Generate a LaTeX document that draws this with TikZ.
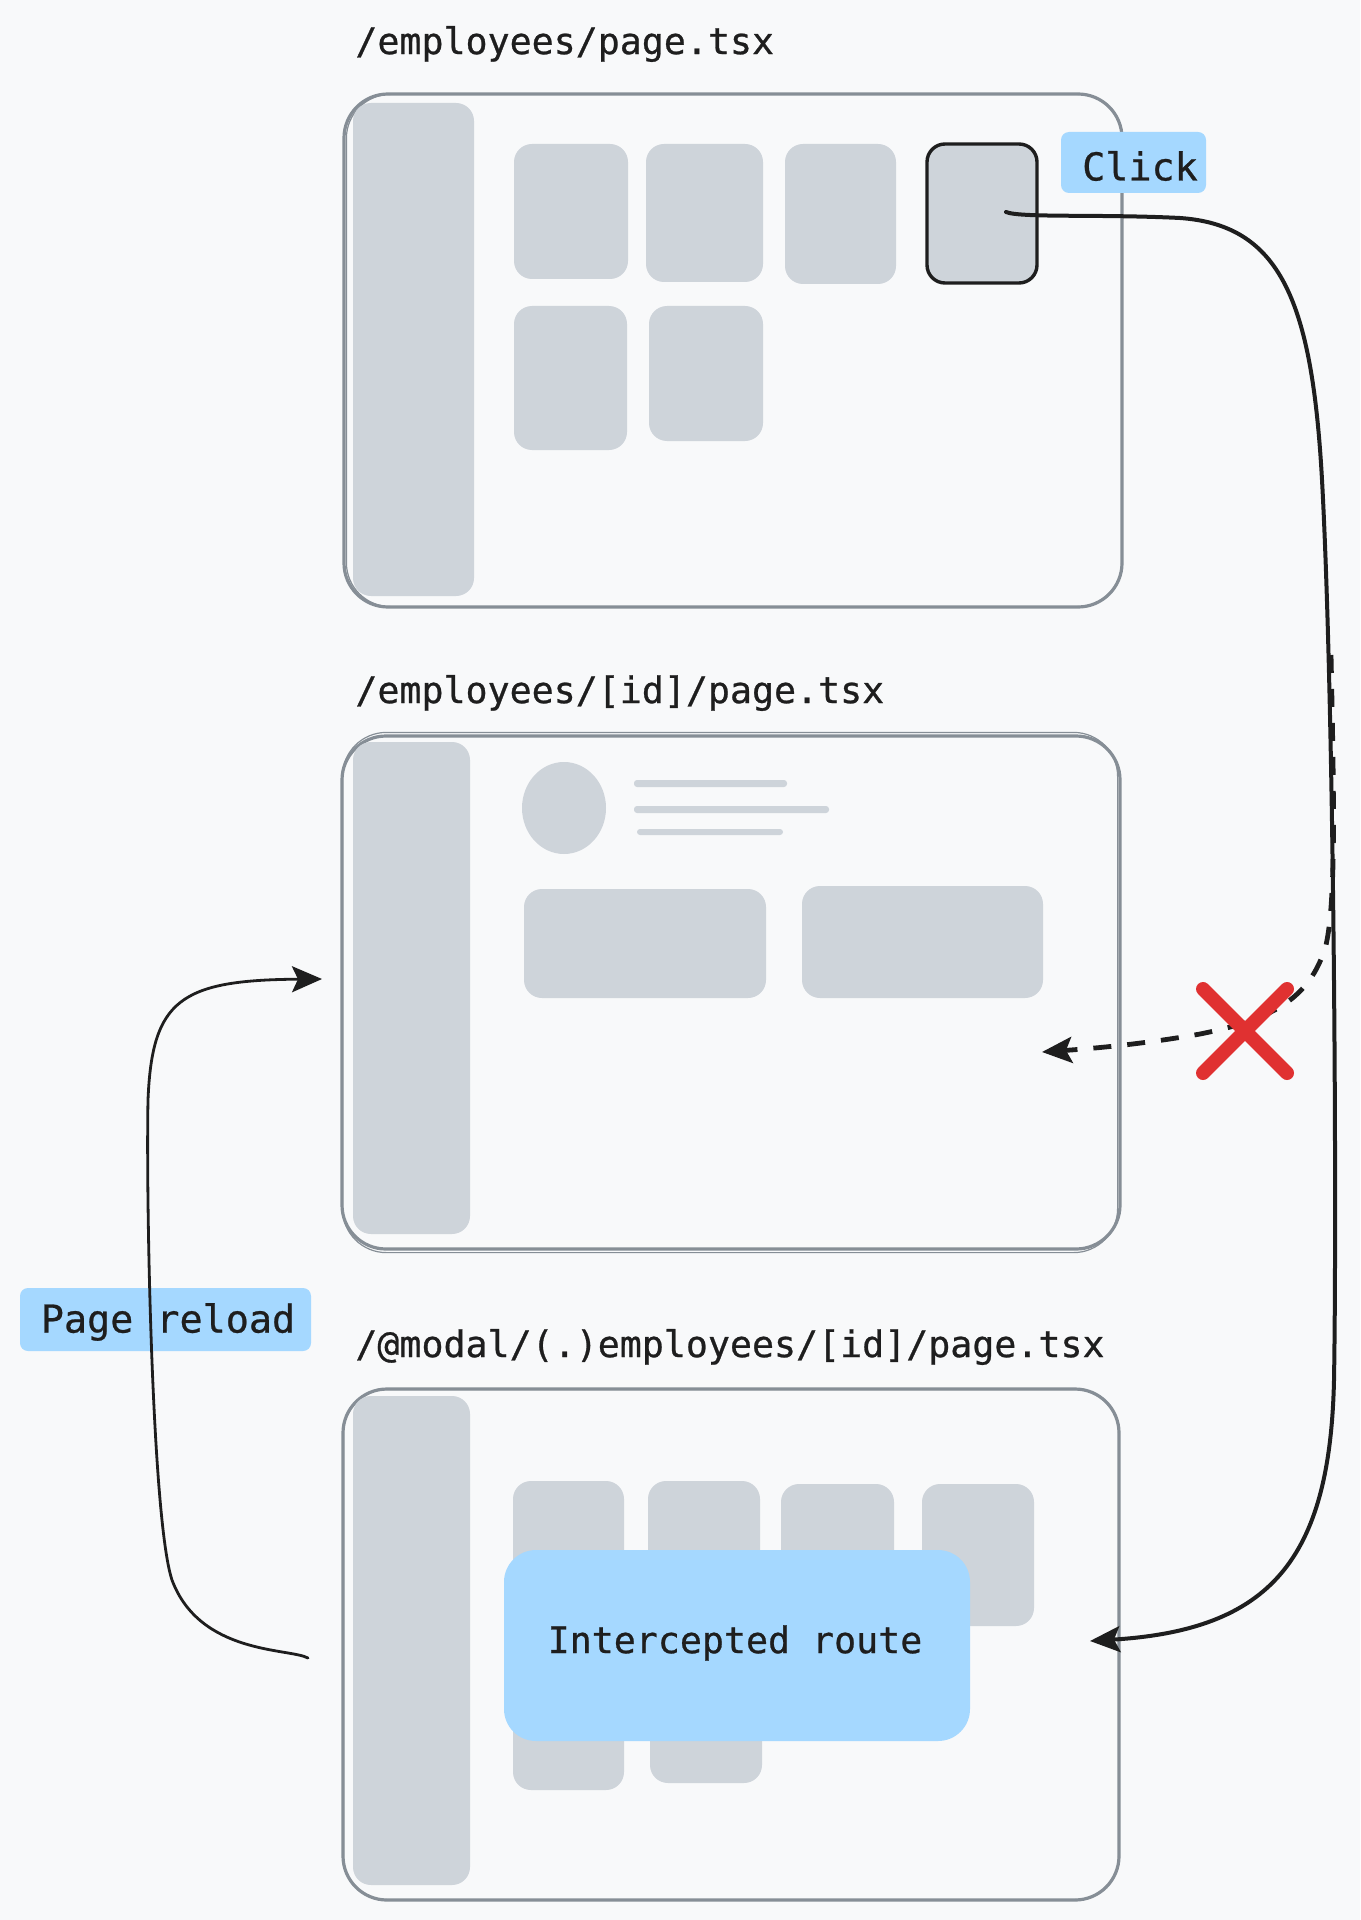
\documentclass[tikz,border=0pt]{standalone}
\usepackage{fontspec}
\setmonofont{DejaVu Sans Mono}[UprightFeatures={FakeBold=0.7}]
\usetikzlibrary{arrows.meta,fit,shapes.geometric}

\definecolor{bgc}{HTML}{F8F9FA}
\definecolor{framec}{HTML}{868E96}
\definecolor{phc}{HTML}{CED4DA}
\definecolor{bluec}{HTML}{A5D8FF}
\definecolor{inkc}{HTML}{1E1E1E}
\definecolor{redc}{HTML}{E03131}

\tikzset{
  frame/.style={draw=framec, line width=1.6pt, rounded corners=22pt, inner sep=0pt},
  sketch/.style={draw=framec, line width=0.6pt, rounded corners=22pt},
  ph/.style={fill=phc, rounded corners=9pt, inner sep=0pt},
  phsel/.style={fill=phc, draw=inkc, line width=1.7pt, rounded corners=9pt, inner sep=0pt},
  bar/.style={fill=phc, rounded corners=1.5pt, inner sep=0pt},
  tag/.style={fill=bluec, rounded corners=4pt, inner sep=0pt},
  modalbox/.style={fill=bluec, rounded corners=16pt, inner sep=0pt},
  title/.style={anchor=west, inner sep=0pt, text=inkc,
    font=\ttfamily\fontsize{18.3}{22}\selectfont},
  tagtext/.style={inner sep=0pt, text=inkc,
    font=\ttfamily\fontsize{19.2}{23}\selectfont},
  conn/.style={draw=inkc, line width=2pt, line cap=round,
    -{Stealth[length=15pt,width=13pt,inset=3pt]}},
  thinconn/.style={draw=inkc, line width=1.4pt, line cap=round,
    -{Stealth[length=15pt,width=13pt,inset=3pt]}},
  blocked/.style={draw=inkc, line width=2.4pt, dash pattern=on 9pt off 8pt,
    -{Stealth[length=15pt,width=13pt,inset=3pt]}},
  cross/.style={draw=redc, line width=7pt, line cap=round},
}

\begin{document}
\begin{tikzpicture}[x=0.5pt, y=-0.5pt]
  \useasboundingbox[fill=bgc] (0,0) rectangle (1360,1920);

  % ---------- list page ----------
  \node[title] (t1) at (355,44) {/employees/page.tsx};
  \node[frame, fit={(344,94) (1122,607)}] (f1) {};
  \draw[sketch] ([xshift=2pt,yshift=1pt]f1.south west) rectangle ([xshift=-1pt,yshift=-1pt]f1.north east);
  \node[ph, fit={(353,103) (474,596)}] (s1) {};
  \node[ph, fit={(514,144) (628,279)}] (a1) {};
  \node[ph, fit={(646,144) (763,282)}] (b1) {};
  \node[ph, fit={(785,144) (896,284)}] (c1) {};
  \node[phsel, fit={(927,144) (1037,283)}] (d1) {};
  \node[ph, fit={(514,306) (627,450)}] (e1) {};
  \node[ph, fit={(649,306) (763,441)}] (g1) {};
  \node[tag, fit={(1061,132) (1206,193)}] (clicktag) {};
  \node[tagtext] (click) at (1140,166) {Click};

  % ---------- detail page ----------
  \node[title] (t2) at (355,693) {/employees/[id]/page.tsx};
  \node[frame, fit={(342,736) (1120,1249)}] (f2) {};
  \draw[sketch] ([xshift=1pt,yshift=-1pt]f2.south west) rectangle ([xshift=-2pt,yshift=1pt]f2.north east);
  \node[ph, fit={(353,742) (470,1234)}] (s2) {};
  \node[fill=phc, ellipse, inner sep=0pt, minimum width=42pt, minimum height=46pt] (avatar) at (564,808) {};
  \node[bar, fit={(634,780) (787,787)}] (l1) {};
  \node[bar, fit={(634,806) (829,813)}] (l2) {};
  \node[bar, fit={(637,829) (783,835)}] (l3) {};
  \node[ph, fit={(524,889) (766,998)}] (p1) {};
  \node[ph, fit={(802,886) (1043,998)}] (p2) {};

  % ---------- modal route ----------
  \node[title] (t3) at (355,1347) {/@modal/(.)employees/[id]/page.tsx};
  \node[frame, fit={(343,1389) (1119,1900)}] (f3) {};
  \draw[sketch] ([xshift=1pt,yshift=1pt]f3.south west) rectangle ([xshift=-1pt,yshift=-1pt]f3.north east);
  \node[ph, fit={(353,1396) (470,1885)}] (s3) {};
  \node[ph, fit={(513,1481) (624,1628)}] (a3) {};
  \node[ph, fit={(648,1481) (760,1628)}] (b3) {};
  \node[ph, fit={(781,1484) (894,1616)}] (c3) {};
  \node[ph, fit={(922,1484) (1034,1626)}] (d3) {};
  \node[ph, fit={(513,1646) (624,1790)}] (e3) {};
  \node[ph, fit={(650,1646) (762,1783)}] (g3) {};
  \node[modalbox, fit={(504,1550) (970,1741)}] (modal) {};
  \node[tagtext, font=\ttfamily\fontsize{18.3}{22}\selectfont] (modaltext) at (735,1643) {Intercepted route};

  % ---------- connectors ----------
  \coordinate (clickfrom) at (1006,212);
  \coordinate (modalin) at (1090,1641);
  \draw[conn] (clickfrom) .. controls (1020,218) and (1100,214) .. (1180,218)
    .. controls (1280,225) and (1312,300) .. (1322,480)
    .. controls (1334,700) and (1337,1200) .. (1334,1380)
    .. controls (1330,1560) and (1270,1630) .. (modalin);

  \coordinate (blockfrom) at (1331,655);
  \coordinate (detailin) at (1042,1052);
  \draw[blocked] (blockfrom) .. controls (1334,800) and (1336,900) .. (1326,945)
    .. controls (1310,1000) and (1270,1020) .. (1200,1034)
    .. controls (1150,1043) and (1100,1048) .. (detailin);
  \node[inner sep=0pt, minimum size=86pt] (xmark) at (1245,1031) {};
  \draw[cross] ([xshift=-21pt,yshift=21pt]xmark.center) -- ([xshift=21pt,yshift=-21pt]xmark.center);
  \draw[cross] ([xshift=21pt,yshift=21pt]xmark.center) -- ([xshift=-21pt,yshift=-21pt]xmark.center);

  \node[tag, fit={(20,1288) (311,1351)}] (reloadtag) {};
  \node[tagtext] (reload) at (168,1322) {Page reload};
  \coordinate (reloadfrom) at (308,1658);
  \coordinate (reloadto) at (322,979);
  \draw[thinconn] (reloadfrom) .. controls (290,1648) and (200,1655) .. (172,1580)
    .. controls (152,1520) and (146,1200) .. (148,1100)
    .. controls (152,1000) and (180,980) .. (reloadto);
\end{tikzpicture}
\end{document}
